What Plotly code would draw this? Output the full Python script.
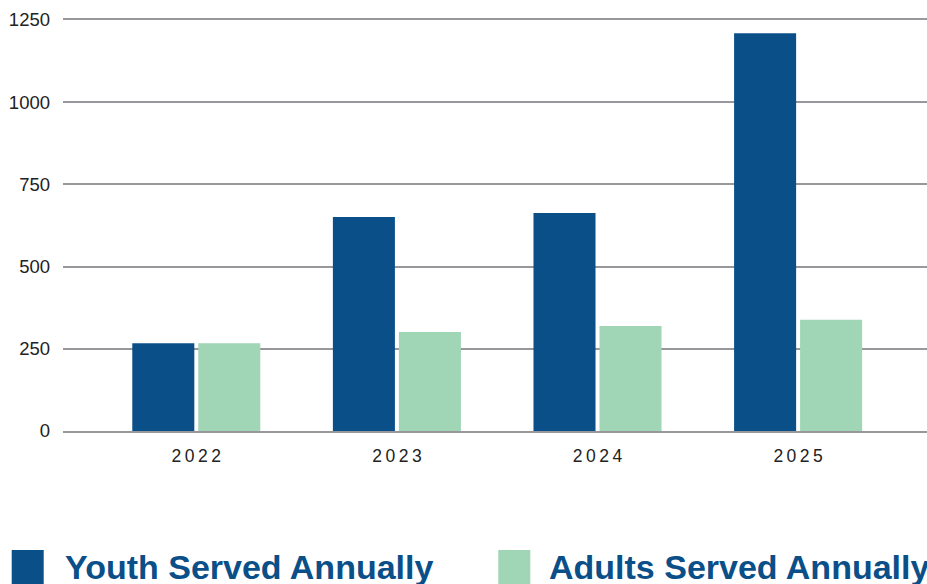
import plotly.graph_objects as go

years = ["2022", "2023", "2024", "2025"]
year_labels = ["2\u20090\u20092\u20092", "2\u20090\u20092\u20093", "2\u20090\u20092\u20094", "2\u20090\u20092\u20095"]
youth = [267, 651, 663, 1210]
adults = [267, 301, 319, 338]
series_names = ["Youth Served Annually", "Adults Served Annually"]
y_ticks = [0, 250, 500, 750, 1000, 1250]

YOUTH_COLOR = "#0B4F89"
ADULT_COLOR = "#A0D5B5"
GRID_COLOR = "#98979C"
TEXT_COLOR = "#222222"

W, H = 927, 584
ML, MR, MT, MB = 63, 0, 20, 153
PW, PH = W - ML - MR, H - MT - MB

def px_x(p):
    return (p - ML) / PW

def px_y(p):
    return (H - MB - p) / PH

fig = go.Figure()
fig.add_trace(go.Bar(x=list(range(len(years))), y=youth, name=series_names[0],
                     marker=dict(color=YOUTH_COLOR, line=dict(width=0)), showlegend=False))
fig.add_trace(go.Bar(x=list(range(len(years))), y=adults, name=series_names[1],
                     marker=dict(color=ADULT_COLOR, line=dict(width=0)), showlegend=False))

center0, step = 196.3, 200.6
fig.update_layout(
    width=W, height=H,
    margin=dict(l=ML, r=MR, t=MT, b=MB, pad=0),
    paper_bgcolor="white", plot_bgcolor="white",
    barmode="group", bargap=0.342, bargroupgap=0.06,
    xaxis=dict(range=[(ML - center0) / step, (W - MR - center0) / step],
               tickvals=list(range(len(years))), ticktext=year_labels,
               showgrid=False, zeroline=False, ticks="",
               showline=True, mirror=True, linecolor=GRID_COLOR, linewidth=1.8,
               tickfont=dict(family="Liberation Sans, Arial, sans-serif", size=17.5, color=TEXT_COLOR),
               ticklabelstandoff=8),
    yaxis=dict(range=[0, 1250], tickvals=y_ticks, showgrid=True, gridcolor=GRID_COLOR,
               gridwidth=1.8, zeroline=False, showline=False, ticks="",
               tickfont=dict(family="Liberation Sans, Arial, sans-serif", size=18.5, color=TEXT_COLOR),
               ticklabelstandoff=12),
    showlegend=False,
)

legend_items = [
    (series_names[0], YOUTH_COLOR, 11.7, 64),
    (series_names[1], ADULT_COLOR, 498.3, 548.3),
]
for name, color, sx, tx in legend_items:
    fig.add_shape(type="rect", xref="paper", yref="paper",
                  x0=px_x(sx), x1=px_x(sx + 32), y0=px_y(550), y1=px_y(590),
                  fillcolor=color, line=dict(width=0), layer="above")
    fig.add_annotation(xref="paper", yref="paper", x=px_x(tx), y=px_y(547),
                       xanchor="left", yanchor="top", showarrow=False, borderpad=0,
                       text=name,
                       font=dict(family="Liberation Sans, Arial, sans-serif",
                                 size=34, color=YOUTH_COLOR, weight="bold"))

fig.write_html("out.html", config={"displayModeBar": False},
               post_script="document.body.style.margin='0';document.body.style.overflow='hidden';")
